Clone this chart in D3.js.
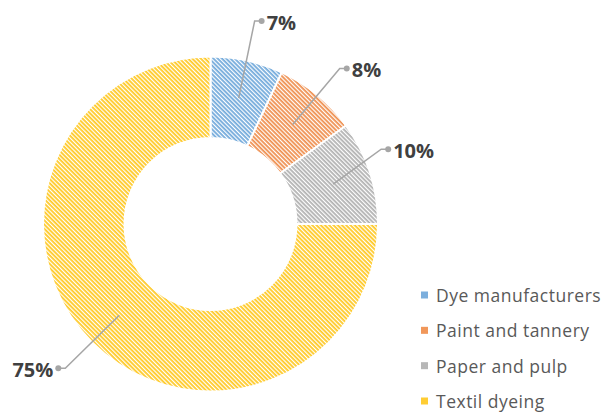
<!DOCTYPE html>
<html>
<head>
<meta charset="utf-8">
<script src="https://cdn.jsdelivr.net/npm/d3@7/dist/d3.min.js"></script>
<style>
  html, body { margin: 0; padding: 0; background: #fff; }
  svg { display: block; }
</style>
</head>
<body>
<svg id="chart" width="602" height="413"></svg>
<script>
// Sources of dye pollution, share of total
const categories = ["Dye manufacturers", "Paint and tannery", "Paper and pulp", "Textil dyeing"];
const shares = [7, 8, 10, 75];
const valueLabels = ["7%", "8%", "10%", "75%"];
const colors = ["#5B9BD5", "#ED7D31", "#A5A5A5", "#FFC000"];

const W = 602, H = 413;
const cx = 210.5, cy = 224;
const outerR = 167.5, innerR = 86;

const svg = d3.select("#chart");
const defs = svg.append("defs");

// Downward diagonal hatch fill for each series
colors.forEach((c, i) => {
  const p = defs.append("pattern")
    .attr("id", "hatch" + i)
    .attr("patternUnits", "userSpaceOnUse")
    .attr("width", 3).attr("height", 3)
    .attr("patternTransform", "rotate(45)");
  p.append("rect").attr("width", 3).attr("height", 3).attr("fill", "#fff");
  p.append("rect").attr("width", 3).attr("height", 1.8).attr("fill", c).attr("opacity", 0.85);
});

const pie = d3.pie().sort(null).value(d => d);
const arcs = pie(shares);

const arc = d3.arc().innerRadius(innerR).outerRadius(outerR);

const g = svg.append("g").attr("transform", `translate(${cx},${cy})`);

g.selectAll("path.slice")
  .data(arcs)
  .join("path")
  .attr("class", "slice")
  .attr("d", arc)
  .attr("fill", (d, i) => `url(#hatch${i})`)
  .attr("stroke", "#fff")
  .attr("stroke-width", 2);

// Leader lines: from inside each slice out to an elbow, then a short tail to the label
const leaderStart = 129;
const leaderBend = [[16, -77], [47, -56], [48, -35], [-54, 53]];
const tail = 7;

const polar = (a, r) => [Math.sin(a) * r, -Math.cos(a) * r];

arcs.forEach((d, i) => {
  const mid = (d.startAngle + d.endAngle) / 2;
  const p0 = polar(mid, leaderStart);
  const p1 = [p0[0] + leaderBend[i][0], p0[1] + leaderBend[i][1]];
  const right = Math.sin(mid) >= 0;
  const p2 = [p1[0] + (right ? tail : -tail), p1[1]];

  g.append("polyline")
    .attr("points", [p0, p1, p2].map(p => p.join(",")).join(" "))
    .attr("fill", "none")
    .attr("stroke", "#a6a6a6")
    .attr("stroke-width", 1.5);

  g.append("circle")
    .attr("cx", p2[0]).attr("cy", p2[1])
    .attr("r", 3)
    .attr("fill", "#a6a6a6");

  g.append("text")
    .attr("x", p2[0] + (right ? 5 : -5))
    .attr("y", p2[1] + 1)
    .attr("text-anchor", right ? "start" : "end")
    .attr("dominant-baseline", "central")
    .attr("font-family", "'Open Sans', sans-serif")
    .attr("font-weight", "bold")
    .attr("font-size", 20)
    .attr("fill", "#404040")
    .text(valueLabels[i]);
});

// Legend
const legendY = d3.scalePoint()
  .domain(categories)
  .range([295, 401]);

const legend = svg.append("g");
const items = legend.selectAll("g.item")
  .data(categories)
  .join("g")
  .attr("class", "item")
  .attr("transform", d => `translate(421,${legendY(d)})`);

items.append("rect")
  .attr("x", 0).attr("y", -3.5)
  .attr("width", 7).attr("height", 7)
  .attr("fill", (d, i) => colors[i])
  .attr("opacity", 0.8);

items.append("text")
  .attr("x", 15)
  .attr("y", 0)
  .attr("dominant-baseline", "central")
  .attr("font-family", "'Open Sans', sans-serif")
  .attr("font-size", 17.5)
  .attr("letter-spacing", 0.5)
  .attr("fill", "#595959")
  .text(d => d);
</script>
</body>
</html>
